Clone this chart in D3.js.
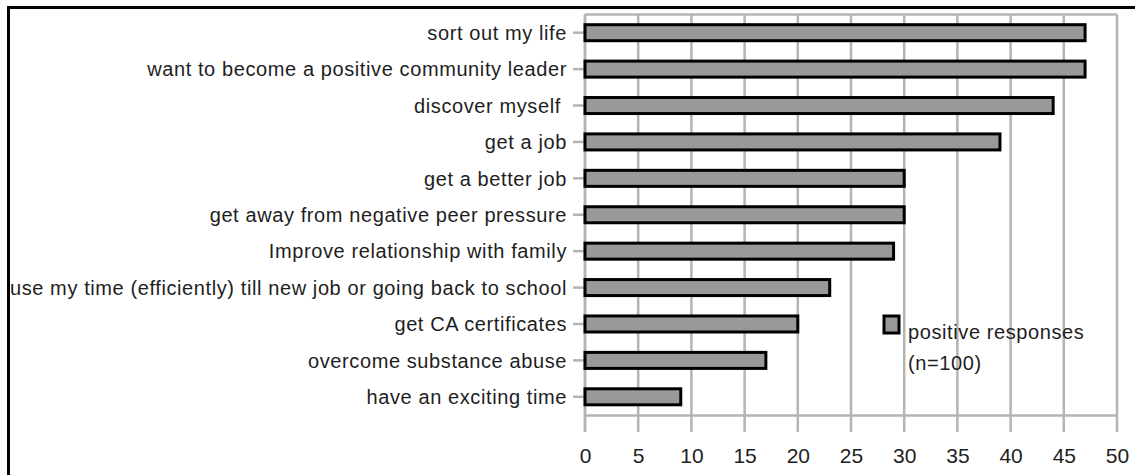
<!DOCTYPE html>
<html>
<head>
<meta charset="utf-8">
<script src="https://cdn.jsdelivr.net/npm/d3@7"></script>
<style>
  body { margin: 0; background: #fff; }
  svg { display: block; }
  .lbl { font-family: "Liberation Sans", Arial, sans-serif; fill: #1e1e1e; white-space: pre; }
</style>
</head>
<body>
<script>
// reasons given, top to bottom
var categories = [
  "sort out my life",
  "want to become a positive community leader",
  "discover myself ",
  "get a job",
  "get a better job",
  "get away from negative peer pressure",
  "Improve relationship with family",
  "use my time (efficiently) till new job or going back to school",
  "get CA certificates",
  "overcome substance abuse",
  "have an exciting time"
];
var responses = [47, 47, 44, 39, 30, 30, 29, 23, 20, 17, 9];
var xTicks = [0, 5, 10, 15, 20, 25, 30, 35, 40, 45, 50];
var legendLines = ["positive responses", "(n=100)"];

var W = 1135, H = 475;
var plotL = 585, plotR = 1117, plotT = 14.5, plotB = 415;
var grid = "#b4b4b4";

var svg = d3.select("body").append("svg")
    .attr("width", W)
    .attr("height", H);

// outer frame (runs off the right and bottom edge)
svg.append("rect")
    .attr("x", 8.5).attr("y", 7.5)
    .attr("width", 1300).attr("height", 600)
    .attr("fill", "none")
    .attr("stroke", "#000")
    .attr("stroke-width", 3);

var x = d3.scaleLinear().domain([0, 50]).range([plotL, plotR]);
var y = d3.scaleBand().domain(categories).range([plotT, plotB]).padding(0);

// vertical grid lines, continuing below the axis as ticks
svg.selectAll(".grid")
    .data(xTicks)
    .enter().append("line")
    .attr("class", "grid")
    .attr("x1", function(d) { return x(d); })
    .attr("x2", function(d) { return x(d); })
    .attr("y1", plotT)
    .attr("y2", plotB + 17)
    .style("stroke", grid)
    .style("stroke-width", 2.5);

// top border of plot
svg.append("line")
    .attr("x1", plotL).attr("x2", plotR)
    .attr("y1", plotT).attr("y2", plotT)
    .style("stroke", grid).style("stroke-width", 2.5);

// x axis
var xAxis = d3.axisBottom(x).tickValues(xTicks).tickSize(0).tickPadding(0);
var gx = svg.append("g")
    .attr("transform", "translate(0," + plotB + ")")
    .call(xAxis);
gx.select(".domain").attr("stroke", grid).attr("stroke-width", 2.5);
gx.selectAll("text")
    .attr("class", "lbl")
    .attr("y", 48)
    .attr("dy", 0)
    .style("font-size", "21px")
    .attr("fill", null);

// y axis
var yAxis = d3.axisLeft(y).tickSize(12).tickPadding(6);
var gy = svg.append("g")
    .attr("transform", "translate(" + plotL + ",0)")
    .call(yAxis);
gy.select(".domain").remove();
gy.selectAll(".tick line").attr("stroke", grid).attr("stroke-width", 2.5);
gy.selectAll("text")
    .attr("class", "lbl")
    .attr("dy", "0.36em")
    .style("font-size", "20px")
    .style("letter-spacing", "0.6px")
    .attr("fill", null);

svg.append("line")
    .attr("x1", plotL).attr("x2", plotL)
    .attr("y1", plotT).attr("y2", plotB + 17)
    .style("stroke", grid).style("stroke-width", 2.5);

// bars
var bh = y.bandwidth() * 0.44;
svg.selectAll(".bar")
    .data(responses)
    .enter().append("rect")
    .attr("class", "bar")
    .attr("x", x(0))
    .attr("y", function(d, i) { return y(categories[i]) + y.bandwidth() / 2 - bh / 2; })
    .attr("width", function(d) { return x(d) - x(0); })
    .attr("height", bh)
    .attr("fill", "#999999")
    .attr("stroke", "#000")
    .attr("stroke-width", 3);

// legend
var lg = svg.append("g").attr("transform", "translate(884,316)");
lg.append("rect")
    .attr("width", 15).attr("height", 17)
    .attr("fill", "#999999")
    .attr("stroke", "#000")
    .attr("stroke-width", 3);
lg.selectAll("text")
    .data(legendLines)
    .enter().append("text")
    .attr("class", "lbl")
    .attr("x", 24)
    .attr("y", function(d, i) { return 23 + i * 31; })
    .style("font-size", "20px")
    .style("letter-spacing", "0.6px")
    .text(function(d) { return d; });
</script>
</body>
</html>
